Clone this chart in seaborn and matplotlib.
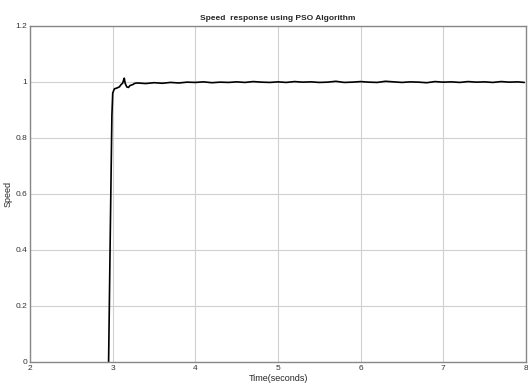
import numpy as np
import seaborn as sns
import matplotlib.pyplot as plt
import pandas as pd

# values
time_s = [2.95, 2.97, 2.99, 3.00, 3.02, 3.05, 3.08, 3.10, 3.12, 3.13, 3.14, 3.15, 3.17,
          3.19, 3.21, 3.24, 3.27, 3.30, 3.40, 3.50, 3.60, 3.70, 3.80, 3.90, 4.00,
          4.10, 4.20, 4.30, 4.40, 4.50, 4.60, 4.70, 4.80, 4.90, 5.00, 5.10, 5.20,
          5.30, 5.40, 5.50, 5.60, 5.70, 5.80, 5.90, 6.00, 6.10, 6.20, 6.30, 6.40,
          6.50, 6.60, 6.70, 6.80, 6.90, 7.00, 7.10, 7.20, 7.30, 7.40, 7.50, 7.60,
          7.70, 7.80, 7.90, 7.98]
speed = [0.0, 0.45, 0.88, 0.96, 0.975, 0.978, 0.982, 0.99, 0.995, 1.005, 1.013, 0.995, 0.982,
         0.98, 0.987, 0.99, 0.995, 0.996, 0.994, 0.997, 0.995, 0.998, 0.996, 0.999, 0.998,
         1.000, 0.997, 0.999, 0.998, 1.000, 0.998, 1.001, 0.999, 0.998, 1.000, 0.998, 1.001,
         0.999, 1.000, 0.998, 0.999, 1.002, 0.998, 0.999, 1.001, 0.999, 0.998, 1.002, 1.000,
         0.998, 1.000, 0.999, 0.997, 1.001, 0.999, 1.000, 0.998, 1.001, 0.999, 1.000, 0.998,
         1.001, 0.999, 1.000, 0.998]

df = pd.DataFrame({'time': time_s, 'speed': speed})

sns.set_style('white')
plt.rcParams['font.family'] = ['Liberation Sans Narrow', 'Liberation Sans', 'DejaVu Sans']

fig = plt.figure(figsize=(5.28, 3.92), dpi=100)
ax = fig.add_axes([0.057, 0.077, 0.939, 0.857])

sns.lineplot(data=df, x='time', y='speed', color='black', linewidth=1.2, ax=ax)

ax.set_xlim(2, 8)
ax.set_ylim(0, 1.2)
ax.set_xticks(np.arange(2, 9, 1))
ax.set_yticks([0, 0.2, 0.4, 0.6, 0.8, 1.0, 1.2])
ax.set_yticklabels(['0', '0.2', '0.4', '0.6', '0.8', '1', '1.2'])
ax.grid(True, color='#d0d0d0', linewidth=0.8)
ax.tick_params(direction='in', length=3, labelsize=6, colors='#555555', labelcolor='#333333', pad=2)
for s in ax.spines.values():
    s.set_color('#888888')
    s.set_linewidth(1.0)

ax.set_title('Speed  response using PSO Algorithm', fontsize=6, fontweight='bold', pad=4)
ax.set_xlabel('Time(seconds)', fontsize=6.5, labelpad=2)
ax.set_ylabel('Speed', fontsize=6.5, labelpad=2)

plt.savefig('out.png', dpi=100)
